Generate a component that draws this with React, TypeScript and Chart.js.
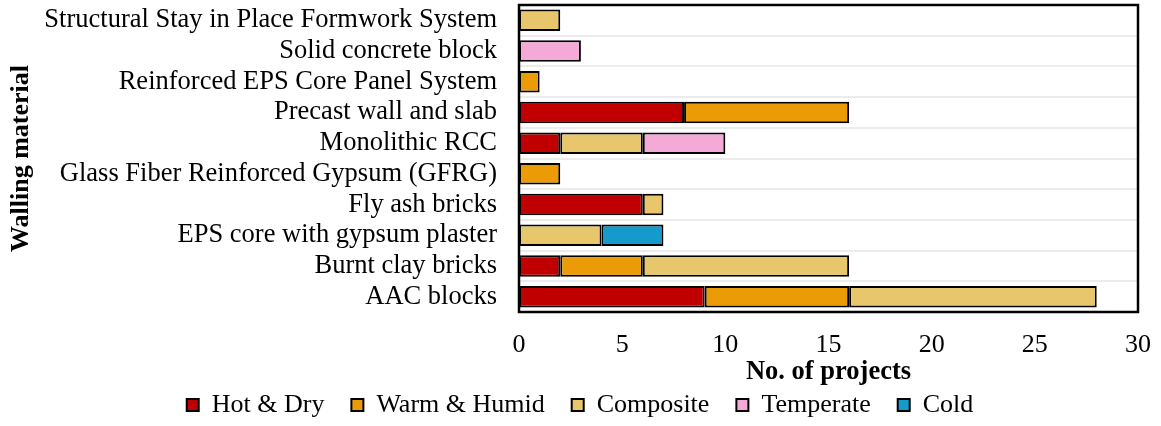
import React, { useEffect, useRef } from "react";
import { Chart, registerables } from "chart.js";

Chart.register(...registerables);

const categories = [
  "Structural Stay in Place Formwork System",
  "Solid concrete block",
  "Reinforced EPS Core Panel System",
  "Precast wall and slab",
  "Monolithic RCC",
  "Glass Fiber Reinforced Gypsum (GFRG)",
  "Fly ash bricks",
  "EPS core with gypsum plaster",
  "Burnt clay bricks",
  "AAC blocks",
];

const hotDry = [null, null, null, 8, 2, null, 6, null, 2, 9];
const warmHumid = [null, null, 1, 8, null, 2, null, null, 4, 7];
const composite = [2, null, null, null, 4, null, 1, 4, 10, 12];
const temperate = [null, 3, null, null, 4, null, null, null, null, null];
const cold = [null, null, null, null, null, null, null, 3, null, null];

const seriesNames = ["Hot & Dry", "Warm & Humid", "Composite", "Temperate", "Cold"];
const seriesColors = ["#C00000", "#EA9B05", "#E8C76C", "#F4A9D6", "#149BCC"];
const xTicks = [0, 5, 10, 15, 20, 25, 30];

const FONT = "'Liberation Serif', 'Times New Roman', serif";
const LEGEND_PAD = 27;
const LEGEND_ITEM_TOP = 392;
const LEGEND_DX = 8;

const frame = {
  id: "frame",
  afterDatasetsDraw(chart: any) {
    const { ctx, chartArea } = chart;
    ctx.save();
    ctx.strokeStyle = "#000";
    ctx.lineWidth = 2.5;
    ctx.strokeRect(chartArea.left, chartArea.top, chartArea.right - chartArea.left, chartArea.bottom - chartArea.top);
    ctx.restore();
  },
};

const legendShift = {
  id: "legendShift",
  afterLayout(chart: any) {
    const lg = chart.legend;
    if (!lg) return;
    const h = lg.bottom - lg.top;
    lg.top = LEGEND_ITEM_TOP - LEGEND_PAD;
    lg.bottom = Math.max(lg.top + h, 426);
    lg.left += LEGEND_DX;
    lg.right += LEGEND_DX;
  },
};

export default function App() {
  const ref = useRef<HTMLCanvasElement>(null);
  useEffect(() => {
    document.body.style.margin = "0";
    const values = [hotDry, warmHumid, composite, temperate, cold];
    const chart = new Chart(ref.current!, {
      type: "bar",
      data: {
        labels: categories,
        datasets: values.map((d, i) => ({
          label: seriesNames[i],
          data: d as any,
          backgroundColor: seriesColors[i],
          borderColor: "#000",
          borderWidth: 2,
          borderSkipped: false,
          barPercentage: 0.7,
          categoryPercentage: 1,
        })),
      },
      options: {
        indexAxis: "y",
        animation: false,
        responsive: false,
        layout: { padding: { top: 5, right: 23, left: 6, bottom: 0 } },
        plugins: {
          legend: {
            position: "bottom",
            maxHeight: 38,
            labels: {
              font: { family: FONT, size: 26 },
              color: "#000",
              boxWidth: 12,
              boxHeight: 12,
              padding: LEGEND_PAD,
            },
          },
          tooltip: { enabled: false },
        },
        scales: {
          x: {
            stacked: true,
            min: 0,
            max: 30,
            afterBuildTicks: (axis: any) => {
              axis.ticks = xTicks.map((v) => ({ value: v }));
            },
            afterFit: (axis: any) => {
              axis.height = 76;
              axis.paddingLeft = 0;
              axis.paddingRight = 0;
            },
            grid: { display: false, drawTicks: false },
            border: { display: false },
            ticks: { font: { family: FONT, size: 26 }, color: "#000", padding: 18 },
            title: {
              display: true,
              text: "No. of projects",
              font: { family: FONT, size: 26.5, weight: "bold" },
              color: "#000",
              padding: { top: 0, bottom: 0 },
            },
          },
          y: {
            stacked: true,
            afterFit: (axis: any) => {
              axis.width = 513;
              axis.paddingTop = 0;
              axis.paddingBottom = 0;
            },
            grid: { display: true, offset: true, color: "#ececec", lineWidth: 2, drawTicks: false },
            border: { display: false },
            ticks: { font: { family: FONT, size: 26.5 }, color: "#000", padding: 22, autoSkip: false },
            title: {
              display: true,
              text: "Walling material",
              font: { family: FONT, size: 26, weight: "bold" },
              color: "#000",
              padding: { top: 0, bottom: 0 },
            },
          },
        },
      },
      plugins: [frame, legendShift],
    });
    return () => chart.destroy();
  }, []);
  return <canvas ref={ref} width={1161} height={426} style={{ display: "block" }} />;
}
